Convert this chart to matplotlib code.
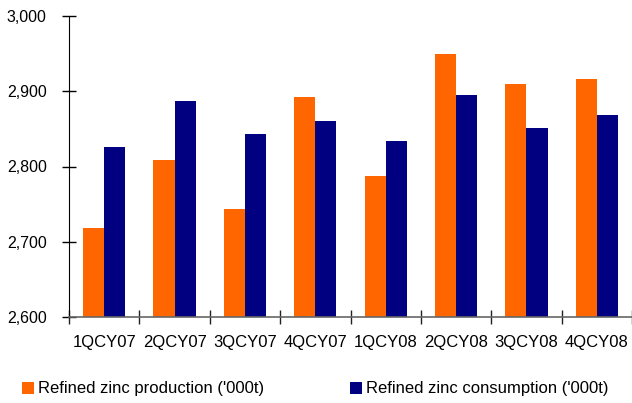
import matplotlib
matplotlib.use("Agg")
import matplotlib.pyplot as plt
import numpy as np
from matplotlib.ticker import FuncFormatter

quarters = ["1QCY07", "2QCY07", "3QCY07", "4QCY07",
            "1QCY08", "2QCY08", "3QCY08", "4QCY08"]
production = [2718, 2808, 2744, 2892, 2788, 2949, 2909, 2916]
consumption = [2826, 2887, 2843, 2860, 2834, 2895, 2851, 2868]

orange = "#FF6600"
navy = "#000080"

plt.rcParams["font.family"] = ["Liberation Sans", "DejaVu Sans"]

fig = plt.figure(figsize=(6.32, 4.03), dpi=100)
ax = fig.add_axes([69 / 632, 1 - 317 / 403, 563 / 632, 301 / 403])

x = np.arange(len(quarters))
w = 0.3
prod_bars = ax.bar(x - w / 2, production, width=w, color=orange,
                   label="Refined zinc production ('000t)", zorder=2)
cons_bars = ax.bar(x + w / 2, consumption, width=w, color=navy,
                   label="Refined zinc consumption ('000t)", zorder=2)

ax.set_xlim(-0.5, len(quarters) - 0.5)
ax.set_ylim(2600, 3000)
ax.set_yticks([2600, 2700, 2800, 2900, 3000])
ax.yaxis.set_major_formatter(FuncFormatter(lambda v, _: f"{int(v):,}"))

# category boundaries get the x ticks, labels sit centred under each group
ax.set_xticks(np.arange(len(quarters) + 1) - 0.5)
ax.set_xticklabels([])
ax.set_xticks(x, minor=True)
ax.set_xticklabels(quarters, minor=True)
ax.tick_params(axis="x", which="minor", length=0, pad=13, labelsize=12)
ax.tick_params(axis="x", which="major", direction="inout", length=10,
               width=1, color="#222222")
ax.tick_params(axis="y", direction="inout", length=10, width=1,
               labelsize=11.5, pad=11)

for s in ("top", "right"):
    ax.spines[s].set_visible(False)
ax.spines["left"].set_color("black")
ax.spines["bottom"].set_color("#666666")
ax.spines["bottom"].set_linewidth(1.2)

leg_kw = dict(loc="center left", frameon=False, fontsize=12, borderpad=0,
              borderaxespad=0, handlelength=0.72, handleheight=0.72,
              handletextpad=0.25)
fig.legend(handles=[prod_bars], bbox_to_anchor=(22 / 632, 1 - 389 / 403),
           **leg_kw)
fig.legend(handles=[cons_bars], bbox_to_anchor=(350 / 632, 1 - 389 / 403),
           **leg_kw)

fig.savefig("out.png", dpi=100)
